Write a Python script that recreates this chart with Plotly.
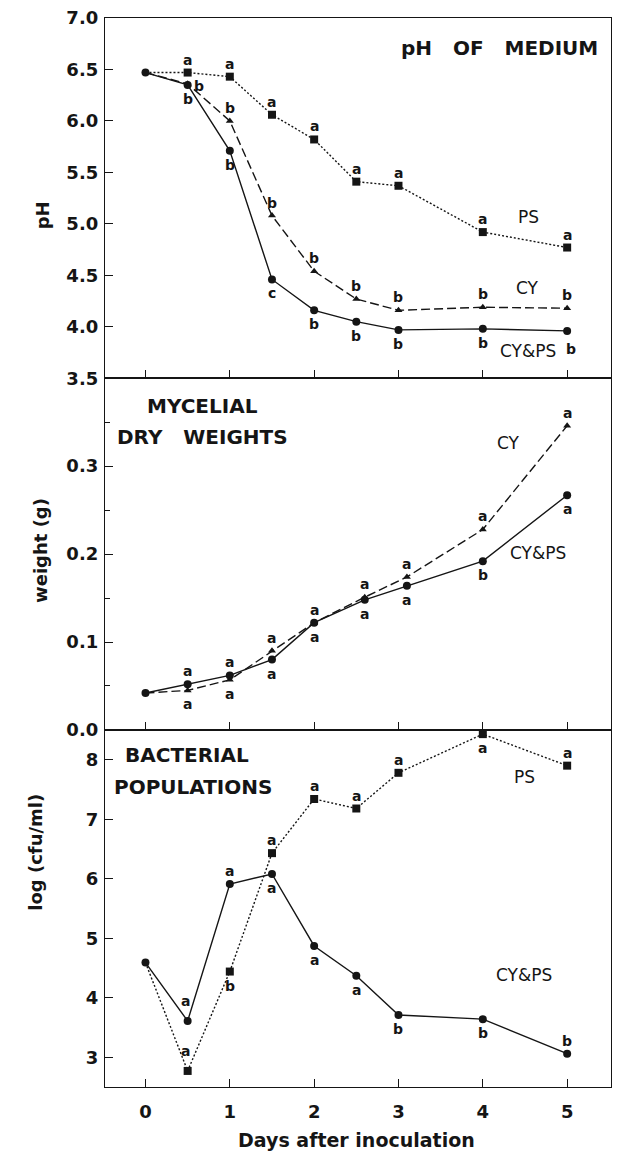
import plotly.graph_objects as go
from plotly.subplots import make_subplots

# ---------------- data ----------------
days = [0, 0.5, 1, 1.5, 2, 2.5, 3, 4, 5]
days_mid = [0, 0.5, 1, 1.5, 2, 2.6, 3.1, 4, 5]
x_ticks = [0, 1, 2, 3, 4, 5]

# pH of medium
ph_cyps = [6.47, 6.35, 5.71, 4.46, 4.16, 4.05, 3.97, 3.98, 3.96]
ph_cy = [6.47, 6.36, 6.00, 5.08, 4.54, 4.27, 4.16, 4.19, 4.18]
ph_ps = [6.47, 6.47, 6.43, 6.06, 5.82, 5.41, 5.37, 4.92, 4.77]
ph_cyps_sig = ["", "b", "b", "c", "b", "b", "b", "b", "b"]
ph_cy_sig = ["", "b", "b", "b", "b", "b", "b", "b", "b"]
ph_ps_sig = ["", "a", "a", "a", "a", "a", "a", "a", "a"]

# mycelial dry weights (g)
wt_cyps = [0.042, 0.052, 0.062, 0.080, 0.122, 0.148, 0.164, 0.192, 0.267]
wt_cy = [0.042, 0.045, 0.057, 0.090, 0.122, 0.151, 0.174, 0.228, 0.346]
wt_cyps_sig = ["", "a", "a", "a", "a", "a", "a", "b", "a"]
wt_cy_sig = ["", "a", "a", "a", "a", "a", "a", "a", "a"]

# bacterial populations log(cfu/ml)
bp_cyps = [4.59, 3.61, 5.91, 6.08, 4.87, 4.37, 3.71, 3.64, 3.06]
bp_ps = [4.59, 2.77, 4.44, 6.43, 7.34, 7.18, 7.78, 8.43, 7.90]
bp_cyps_sig = ["", "a", "a", "a", "a", "a", "b", "b", "b"]
bp_ps_sig = ["", "a", "b", "a", "a", "a", "a", "a", "a"]

# letter placement (u = above, U = further above, d = below, D = below-right, r = right)
ph_cyps_pos = ["", "d", "d", "d", "d", "d", "d", "d", "D"]
ph_cy_pos = ["", "r", "u", "u", "u", "u", "u", "u", "u"]
ph_ps_pos = ["", "u", "u", "u", "u", "u", "u", "u", "u"]
wt_cyps_pos = ["", "u", "u", "d", "d", "d", "d", "d", "d"]
wt_cy_pos = ["", "d", "d", "u", "u", "u", "u", "u", "u"]
bp_cyps_pos = ["", "U", "u", "d", "d", "d", "d", "d", "u"]
bp_ps_pos = ["", "U", "d", "u", "u", "u", "u", "d", "u"]

FONT = "DejaVu Sans"
INK = "#151515"

fig = make_subplots(rows=3, cols=1, shared_xaxes=True, vertical_spacing=0)

def line(x, y, row, dash, symbol, msize):
    # line through all points, markers after the shared day-0 start
    fig.add_trace(go.Scatter(
        x=x, y=y, mode="lines", cliponaxis=False,
        line=dict(color=INK, width=1.4, dash=dash),
        showlegend=False), row=row, col=1)
    fig.add_trace(go.Scatter(
        x=x[1:], y=y[1:], mode="markers", cliponaxis=False,
        marker=dict(symbol=symbol, size=msize, color=INK, opacity=1,
                    line=dict(width=0)),
        showlegend=False), row=row, col=1)

def start(x, y, row):
    fig.add_trace(go.Scatter(
        x=x[:1], y=y[:1], mode="markers", cliponaxis=False,
        marker=dict(symbol="circle", size=8, color=INK, opacity=1,
                    line=dict(width=0)),
        showlegend=False), row=row, col=1)

SOLID = "solid"
DASH = "9px,4px"
DOT = "2px,2px"

line(days, ph_ps, 1, DOT, "square", 8)
line(days, ph_cy, 1, DASH, "triangle-up", 7)
line(days, ph_cyps, 1, SOLID, "circle", 8)
start(days, ph_cyps, 1)

line(days_mid, wt_cy, 2, DASH, "triangle-up", 7)
line(days_mid, wt_cyps, 2, SOLID, "circle", 8)
start(days_mid, wt_cyps, 2)

line(days, bp_ps, 3, DOT, "square", 8)
line(days, bp_cyps, 3, SOLID, "circle", 8)
start(days, bp_cyps, 3)

annotations = []

SHIFTS = {"u": (0, 13), "U": (-2, 20), "d": (0, -14), "D": (4, -18), "r": (11, -2)}

def letters(x, y, sig, pos, row):
    yref = "y" if row == 1 else f"y{row}"
    xref = "x" if row == 1 else f"x{row}"
    for xi, yi, s, p in zip(x, y, sig, pos):
        if not s:
            continue
        xs, ys = SHIFTS[p]
        annotations.append(dict(x=xi, y=yi, xref=xref, yref=yref, text=s,
                                showarrow=False, xshift=xs, yshift=ys,
                                font=dict(family=FONT, size=14, color=INK, weight="bold")))

letters(days, ph_cyps, ph_cyps_sig, ph_cyps_pos, 1)
letters(days, ph_cy, ph_cy_sig, ph_cy_pos, 1)
letters(days, ph_ps, ph_ps_sig, ph_ps_pos, 1)
letters(days_mid, wt_cyps, wt_cyps_sig, wt_cyps_pos, 2)
letters(days_mid, wt_cy, wt_cy_sig, wt_cy_pos, 2)
letters(days, bp_cyps, bp_cyps_sig, bp_cyps_pos, 3)
letters(days, bp_ps, bp_ps_sig, bp_ps_pos, 3)

def txt(x, y, row, s, size, anchor="center", weight="normal"):
    yref = "y" if row == 1 else f"y{row}"
    xref = "x" if row == 1 else f"x{row}"
    annotations.append(dict(x=x, y=y, xref=xref, yref=yref, text=s, showarrow=False,
                            xanchor=anchor,
                            font=dict(family=FONT, size=size, color=INK, weight=weight)))

NB = "\u00a0"
txt(5.39, 6.708, 1, "pH" + NB * 3 + "OF" + NB * 3 + "MEDIUM", 20, "right", "bold")
txt(4.536, 5.065, 1, "PS", 17)
txt(4.524, 4.375, 1, "CY", 17)
txt(4.536, 3.763, 1, "CY&PS", 17)

txt(0.0, 0.369, 2, "MYCELIAL", 20, "left", "bold")
txt(-0.36, 0.333, 2, "DRY" + NB * 3 + "WEIGHTS", 20, "left", "bold")
txt(4.299, 0.326, 2, "CY", 17)
txt(4.655, 0.201, 2, "CY&PS", 17)

txt(-0.267, 8.08, 3, "BACTERIAL", 20, "left", "bold")
txt(-0.397, 7.54, 3, "POPULATIONS", 20, "left", "bold")
txt(4.489, 7.71, 3, "PS", 17)
txt(4.489, 4.38, 3, "CY&PS", 17)

for s, xp, yp in [("pH", -0.148, 0.830), ("weight (g)", -0.152, 0.502),
                  ("log (cfu/ml)", -0.162, 0.163)]:
    annotations.append(dict(x=xp, y=yp, xref="paper", yref="paper", text=s,
                            textangle=-90, showarrow=False,
                            font=dict(family=FONT, size=18, color=INK, weight="bold")))
annotations.append(dict(x=0.498, y=-0.0617, xref="paper", yref="paper",
                        text="Days after inoculation", showarrow=False,
                        font=dict(family=FONT, size=19, color=INK, weight="bold")))

axis_common = dict(showline=True, linecolor=INK, linewidth=1.3, mirror=True,
                   ticks="inside", ticklen=8, tickwidth=1.4, tickcolor=INK,
                   showgrid=False, zeroline=False,
                   tickfont=dict(family=FONT, size=18, color=INK, weight="bold"))

fig.update_layout(
    width=619, height=1167,
    margin=dict(l=105, r=8, t=18, b=80),
    paper_bgcolor="white", plot_bgcolor="white",
    annotations=annotations,
)

for i in (1, 2, 3):
    fig.update_xaxes(axis_common, range=[-0.48, 5.52], tickvals=x_ticks,
                     row=i, col=1)
fig.update_xaxes(showticklabels=True, ticklabelstandoff=8, row=3, col=1)

fig.update_yaxes(axis_common, range=[3.5, 7.0], dtick=0.5, tickformat=".1f",
                 ticklabelstandoff=2, domain=[0.663, 1.0], row=1, col=1)
fig.update_yaxes(axis_common, range=[0.0, 0.4], tickvals=[0.0, 0.1, 0.2, 0.3],
                 ticktext=["0.0", "0.1", "0.2", "0.3"], ticklabelstandoff=2,
                 minor=dict(tickvals=[0.05, 0.15, 0.25, 0.35], ticks="inside",
                            ticklen=5, tickcolor=INK, tickwidth=1.2),
                 domain=[0.334, 0.663], row=2, col=1)
fig.update_yaxes(axis_common, range=[2.5, 8.5], tickvals=[3, 4, 5, 6, 7, 8],
                 ticklabelstandoff=2, domain=[0.0, 0.334], row=3, col=1)

fig.write_html("out.html")
